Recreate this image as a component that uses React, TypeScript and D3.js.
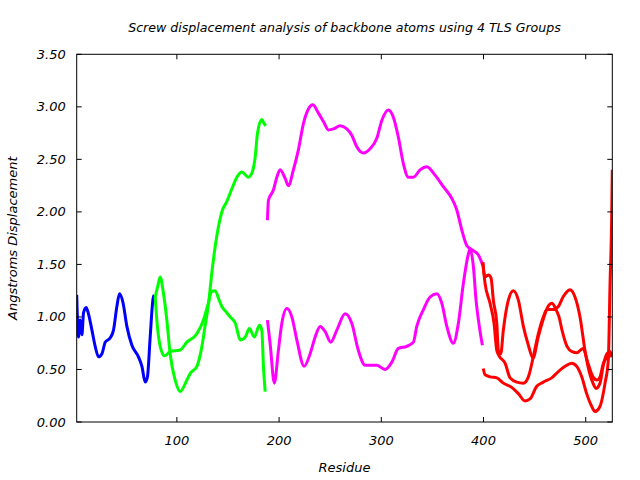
import React from "react";
import * as d3 from "d3";

const title = "Screw displacement analysis of backbone atoms using 4 TLS Groups";
const xLabel = "Residue";
const yLabel = "Angstroms Displacement";
const xTicks = [100, 200, 300, 400, 500];
const yTicks = [0, 0.5, 1, 1.5, 2, 2.5, 3, 3.5];

const blueRes = [2, 3.8, 5.4, 7.1, 8.7, 11.3, 13.5, 16.9, 20.1, 23.3, 26.7, 29.9, 34.7, 38, 41.3, 43.9, 47.2, 51.1, 56, 62.4, 65.8, 69, 71.2, 73.9, 76.5, 77.8];
const blueVal = [1.21, 0.81, 0.97, 0.83, 1.04, 1.09, 1.03, 0.875, 0.72, 0.62, 0.65, 0.76, 0.8, 0.875, 1.1, 1.22, 1.14, 0.91, 0.73, 0.62, 0.53, 0.38, 0.43, 0.81, 1.16, 1.21];

const greenARes = [78.8, 81.5, 83.7, 86.5, 90.2, 93.4, 98.3, 103.2, 109.8, 112.9, 119.6, 124.5, 127.7, 130.9, 134.2, 137.5, 140.7, 144, 148.9, 153.8, 158.7, 163.6, 170, 173.4, 176.6, 178.9, 183.1, 185.4, 187];
const greenAVal = [1.19, 1.3, 1.38, 1.25, 0.97, 0.65, 0.4, 0.29, 0.4, 0.46, 0.53, 0.72, 0.92, 1.12, 1.42, 1.67, 1.86, 2.0, 2.1, 2.22, 2.33, 2.38, 2.33, 2.37, 2.52, 2.75, 2.88, 2.84, 2.82];

const greenBRes = [78.8, 80.4, 83.7, 87.9, 93.4, 103.2, 109.8, 119.6, 126, 130.5, 134, 137.5, 141, 144, 148, 152.2, 157.2, 162.1, 167, 170.9, 175.8, 180.8, 183.1, 184.7, 186.4];
const greenBVal = [1.19, 0.97, 0.72, 0.63, 0.67, 0.685, 0.76, 0.84, 0.97, 1.12, 1.24, 1.25, 1.17, 1.1, 1.05, 1.0, 0.94, 0.78, 0.81, 0.89, 0.81, 0.92, 0.875, 0.53, 0.29];

const magentaARes = [188.6, 189.6, 194.5, 197.8, 201, 205.9, 209.1, 214, 218.9, 223.8, 228.7, 233, 238.5, 243.4, 248.3, 253.2, 259.7, 266.3, 271.1, 276, 282.5, 289, 295.6, 300.5, 306.9, 311.8, 316.7, 321.6, 326.5, 331.4, 338, 344.5, 352.6, 360.7, 368.9, 373.8, 378.7, 383.6, 388.5, 395, 399.3];
const magentaAVal = [1.92, 2.11, 2.21, 2.33, 2.4, 2.32, 2.25, 2.4, 2.59, 2.84, 2.98, 3.02, 2.94, 2.86, 2.78, 2.79, 2.82, 2.79, 2.73, 2.62, 2.56, 2.6, 2.7, 2.87, 2.97, 2.9, 2.71, 2.46, 2.33, 2.33, 2.4, 2.43, 2.35, 2.24, 2.13, 2.02, 1.83, 1.68, 1.64, 1.59, 1.49];

const magentaBRes = [188.6, 191.2, 195.4, 199.3, 202.7, 207.6, 212.5, 217.4, 224.5, 230.4, 235.3, 240.2, 245.1, 250.6, 256.5, 264.6, 271.1, 277.6, 284.2, 295.6, 303.7, 310.3, 316.7, 324.9, 331.4, 334.7, 341.2, 347.7, 354.3, 359.2, 364.1, 370.5, 375.4, 380.3, 385.2, 386.8, 390.1, 392.7, 395.9, 398.9];
const magentaBVal = [0.97, 0.75, 0.37, 0.68, 0.94, 1.08, 1.0, 0.78, 0.53, 0.65, 0.81, 0.91, 0.86, 0.76, 0.875, 1.03, 0.94, 0.68, 0.54, 0.54, 0.5, 0.57, 0.7, 0.72, 0.76, 0.91, 1.07, 1.19, 1.22, 1.13, 0.91, 0.75, 0.94, 1.32, 1.6, 1.65, 1.48, 1.16, 0.91, 0.73];

const redARes = [399.3, 401.5, 404.8, 407.4, 409.6, 413, 414.5, 416.9, 419.4, 424.3, 429.2, 434.1, 439, 443.9, 448.4, 453.6, 458.2, 463.1, 467, 470.9, 473.9, 476.8, 481.7, 486.6, 491.5, 497.3, 502.2, 507.1, 511, 514, 517, 520.8, 522.8, 525.7];
const redAVal = [1.52, 1.38, 1.4, 1.37, 1.16, 0.94, 0.68, 0.65, 0.875, 1.16, 1.25, 1.16, 0.91, 0.73, 0.61, 0.81, 0.97, 1.1, 1.13, 1.07, 1.0, 0.875, 0.72, 0.67, 0.66, 0.7, 0.56, 0.43, 0.4, 0.43, 0.55, 0.62, 0.65, 0.62];

const redBRes = [399.3, 401.5, 406.4, 410.3, 413, 415.2, 421.1, 426, 432.5, 439, 443.9, 448.7, 453.6, 458.5, 462.1, 468, 473.2, 477.8, 484.6, 489.5, 494.4, 499.3, 502.2, 507.1, 510.1, 514, 517, 520.8, 523.8, 525.7];
const redBVal = [1.52, 1.32, 1.13, 0.94, 0.68, 0.63, 0.56, 0.42, 0.38, 0.37, 0.43, 0.62, 0.84, 1.0, 1.07, 1.07, 1.1, 1.19, 1.26, 1.19, 1.0, 0.68, 0.53, 0.37, 0.32, 0.37, 0.53, 0.65, 0.67, 0.62];

const redCRes = [399.8, 401.5, 406.4, 413, 419.4, 427.6, 434.1, 440.6, 445.5, 452.1, 458.5, 466.7, 473.2, 479.8, 486.3, 491.2, 496.1, 500.9, 505.8, 509.1, 514, 518.9, 522.1, 523.8, 525.4, 526];
const redCVal = [0.51, 0.45, 0.43, 0.42, 0.37, 0.33, 0.27, 0.2, 0.22, 0.34, 0.38, 0.42, 0.48, 0.53, 0.56, 0.53, 0.43, 0.27, 0.15, 0.1, 0.15, 0.37, 0.59, 1.32, 1.95, 2.4];

const series = [
  { res: blueRes, val: blueVal, color: "#0000ff" },
  { res: greenARes, val: greenAVal, color: "#00ff00" },
  { res: greenBRes, val: greenBVal, color: "#00ff00" },
  { res: magentaARes, val: magentaAVal, color: "#ff00ff" },
  { res: magentaBRes, val: magentaBVal, color: "#ff00ff" },
  { res: redARes, val: redAVal, color: "#ff0000" },
  { res: redBRes, val: redBVal, color: "#ff0000" },
  { res: redCRes, val: redCVal, color: "#ff0000" },
];

const W = 640, H = 480;
const L = 76.7, R = 612.3, T = 54.3, B = 422;
const FONT = "'DejaVu Sans', sans-serif";

export default function App() {
  const x = d3.scaleLinear().domain([2, 526]).range([L, R]);
  const y = d3.scaleLinear().domain([0, 3.5]).range([B, T]);
  const line = d3
    .line<[number, number]>()
    .x((d) => x(d[0]))
    .y((d) => y(d[1]))
    .curve(d3.curveMonotoneX);
  const fmt = d3.format(".2f");
  const tk = 5;
  return (
    <svg width={W} height={H} style={{ position: "absolute", left: 0, top: 0, background: "#fff" }} fontFamily={FONT}>
      <defs>
        <clipPath id="plot">
          <rect x={L} y={T - 2} width={R - L} height={B - T + 2} />
        </clipPath>
      </defs>
      <rect x={0} y={0} width={W} height={H} fill="#fff" />
      <g clipPath="url(#plot)">
        {series.map((s, i) => (
          <path
            key={i}
            d={line(s.res.map((r, j) => [r, s.val[j]] as [number, number])) || ""}
            fill="none"
            stroke={s.color}
            strokeWidth={3}
            strokeLinejoin="round"
            strokeLinecap="butt"
          />
        ))}
      </g>
      <rect x={L} y={T} width={R - L} height={B - T} fill="none" stroke="#000" strokeWidth={1} />
      {yTicks.map((t) => (
        <g key={"y" + t}>
          <line x1={L} x2={L + tk} y1={y(t)} y2={y(t)} stroke="#000" />
          <line x1={R} x2={R - tk} y1={y(t)} y2={y(t)} stroke="#000" />
          <text x={L - 11} y={y(t)} dy="0.35em" textAnchor="end" fontSize={13} fontStyle="italic" fill="#000">
            {fmt(t)}
          </text>
        </g>
      ))}
      {xTicks.map((t) => (
        <g key={"x" + t}>
          <line x1={x(t)} x2={x(t)} y1={B} y2={B - tk} stroke="#000" />
          <line x1={x(t)} x2={x(t)} y1={T} y2={T + tk} stroke="#000" />
          <text x={x(t)} y={445} textAnchor="middle" fontSize={13} fontStyle="italic" fill="#000">
            {t}
          </text>
        </g>
      ))}
      <text x={(L + R) / 2} y={32} textAnchor="middle" fontSize={12.6} fontStyle="italic" fill="#000">
        {title}
      </text>
      <text x={(L + R) / 2} y={472} textAnchor="middle" fontSize={13} fontStyle="italic" fill="#000">
        {xLabel}
      </text>
      <text
        transform={`translate(17, ${(T + B) / 2}) rotate(-90)`}
        textAnchor="middle"
        fontSize={13}
        fontStyle="italic"
        fill="#000"
      >
        {yLabel}
      </text>
    </svg>
  );
}
